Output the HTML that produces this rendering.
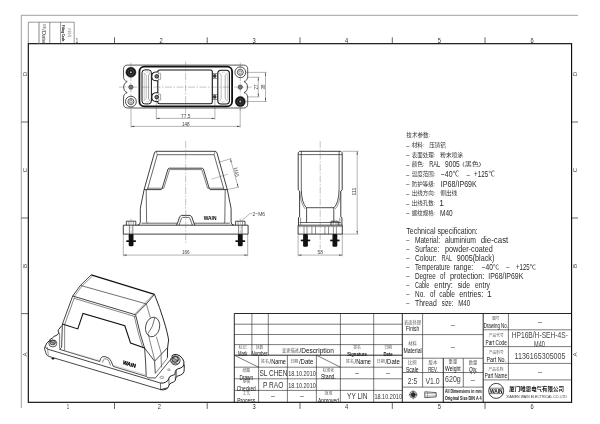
<!DOCTYPE html>
<html><head><meta charset="utf-8"><title>HP16B/H-SEH-4S-M40</title>
<style>
html,body{margin:0;padding:0;background:#fff;}
body{width:600px;height:424px;overflow:hidden;}
svg{display:block;font-family:'Liberation Sans','Noto Sans CJK SC',sans-serif;will-change:transform;}
</style></head><body>
<svg width="600" height="424" viewBox="0 0 600 424">
<defs><clipPath id="cb"><rect x="0" y="0" width="600" height="402.6"/></clipPath></defs>
<rect x="0" y="0" width="600" height="424" fill="#fff"/>
<line x1="21.3" y1="15.3" x2="578" y2="15.3" stroke="#777" stroke-width="0.7" />
<line x1="21.3" y1="15.3" x2="21.3" y2="408" stroke="#777" stroke-width="0.7" />
<rect x="28.3" y="43.7" width="543.3000000000001" height="358.6" fill="none" stroke="#000" stroke-width="1.1"/>
<line x1="114.5" y1="37.3" x2="114.5" y2="43.7" stroke="#333" stroke-width="0.75" />
<line x1="114.5" y1="402.3" x2="114.5" y2="408.9" stroke="#333" stroke-width="0.75" />
<line x1="207.2" y1="37.3" x2="207.2" y2="43.7" stroke="#333" stroke-width="0.75" />
<line x1="207.2" y1="402.3" x2="207.2" y2="408.9" stroke="#333" stroke-width="0.75" />
<line x1="300" y1="37.3" x2="300" y2="43.7" stroke="#333" stroke-width="0.75" />
<line x1="300" y1="402.3" x2="300" y2="408.9" stroke="#333" stroke-width="0.75" />
<line x1="392.3" y1="37.3" x2="392.3" y2="43.7" stroke="#333" stroke-width="0.75" />
<line x1="392.3" y1="402.3" x2="392.3" y2="408.9" stroke="#333" stroke-width="0.75" />
<line x1="485" y1="37.3" x2="485" y2="43.7" stroke="#333" stroke-width="0.75" />
<line x1="485" y1="402.3" x2="485" y2="408.9" stroke="#333" stroke-width="0.75" />
<text x="161.2" y="42.8" font-size="7.3" text-anchor="middle" fill="#333" textLength="3.2" lengthAdjust="spacingAndGlyphs" >2</text>
<text x="159.4" y="408.9" font-size="7.3" text-anchor="middle" fill="#333" textLength="3.2" lengthAdjust="spacingAndGlyphs" >2</text>
<text x="254" y="42.8" font-size="7.3" text-anchor="middle" fill="#333" textLength="3.2" lengthAdjust="spacingAndGlyphs" >3</text>
<text x="254" y="408.9" font-size="7.3" text-anchor="middle" fill="#333" textLength="3.2" lengthAdjust="spacingAndGlyphs" >3</text>
<text x="346.5" y="42.8" font-size="7.3" text-anchor="middle" fill="#333" textLength="3.2" lengthAdjust="spacingAndGlyphs" >4</text>
<text x="346.5" y="408.9" font-size="7.3" text-anchor="middle" fill="#333" textLength="3.2" lengthAdjust="spacingAndGlyphs" >4</text>
<text x="439.3" y="42.8" font-size="7.3" text-anchor="middle" fill="#333" textLength="3.2" lengthAdjust="spacingAndGlyphs" >5</text>
<text x="439.3" y="408.9" font-size="7.3" text-anchor="middle" fill="#333" textLength="3.2" lengthAdjust="spacingAndGlyphs" >5</text>
<text x="532" y="42.8" font-size="7.3" text-anchor="middle" fill="#333" textLength="3.2" lengthAdjust="spacingAndGlyphs" >6</text>
<text x="532" y="408.9" font-size="7.3" text-anchor="middle" fill="#333" textLength="3.2" lengthAdjust="spacingAndGlyphs" >6</text>
<text x="77" y="42.8" font-size="7.3" text-anchor="middle" fill="#333" textLength="2.4" lengthAdjust="spacingAndGlyphs" >1</text>
<text x="68" y="408.9" font-size="7.3" text-anchor="middle" fill="#333" textLength="2.4" lengthAdjust="spacingAndGlyphs" >1</text>
<line x1="21.3" y1="122" x2="28.3" y2="122" stroke="#333" stroke-width="0.75" />
<line x1="571.6" y1="122" x2="578" y2="122" stroke="#333" stroke-width="0.75" />
<line x1="21.3" y1="218" x2="28.3" y2="218" stroke="#333" stroke-width="0.75" />
<line x1="571.6" y1="218" x2="578" y2="218" stroke="#333" stroke-width="0.75" />
<line x1="21.3" y1="313.6" x2="28.3" y2="313.6" stroke="#333" stroke-width="0.75" />
<text x="27.0" y="74" font-size="6" text-anchor="middle" fill="#444" transform="rotate(-90 27.0 74)" >D</text>
<text x="577.4" y="74" font-size="6" text-anchor="middle" fill="#444" transform="rotate(-90 577.4 74)" >D</text>
<text x="27.0" y="170" font-size="6" text-anchor="middle" fill="#444" transform="rotate(-90 27.0 170)" >C</text>
<text x="577.4" y="170" font-size="6" text-anchor="middle" fill="#444" transform="rotate(-90 577.4 170)" >C</text>
<text x="27.0" y="266" font-size="6" text-anchor="middle" fill="#444" transform="rotate(-90 27.0 266)" >B</text>
<text x="577.4" y="266" font-size="6" text-anchor="middle" fill="#444" transform="rotate(-90 577.4 266)" >B</text>
<text x="27.0" y="354.6" font-size="6" text-anchor="middle" fill="#444" transform="rotate(-90 27.0 354.6)" >A</text>
<text x="577.4" y="354.6" font-size="6" text-anchor="middle" fill="#444" transform="rotate(-90 577.4 354.6)" >A</text>
<line x1="28.3" y1="22.2" x2="74.2" y2="22.2" stroke="#333" stroke-width="0.5" />
<line x1="28.3" y1="22.2" x2="28.3" y2="43.7" stroke="#333" stroke-width="0.5" />
<line x1="49.8" y1="22.2" x2="49.8" y2="43.7" stroke="#333" stroke-width="0.5" />
<line x1="60.6" y1="22.2" x2="60.6" y2="43.7" stroke="#333" stroke-width="0.5" />
<line x1="74.2" y1="22.2" x2="74.2" y2="43.7" stroke="#333" stroke-width="0.5" />
<line x1="39" y1="22.2" x2="39" y2="43.7" stroke="#888" stroke-width="1.0" />
<text x="43.2" y="26.3" font-size="2.9" text-anchor="middle" fill="#777" textLength="5.4" lengthAdjust="spacingAndGlyphs" transform="rotate(90 43.2 26.3)" >日期</text>
<text x="42.3" y="36.2" font-size="5.6" text-anchor="middle" fill="#333" textLength="14" lengthAdjust="spacingAndGlyphs" transform="rotate(90 42.3 36.2)" >/Date</text>
<text x="62.4" y="33.2" font-size="4.3" text-anchor="middle" fill="#111" textLength="16.5" lengthAdjust="spacingAndGlyphs" font-weight="bold" transform="rotate(90 62.4 33.2)" >Filing Code</text>
<text x="68.3" y="32.8" font-size="3.2" text-anchor="middle" fill="#777" textLength="9.5" lengthAdjust="spacingAndGlyphs" transform="rotate(90 68.3 32.8)" >归档号</text>
<line x1="234.3" y1="313.5" x2="571.6" y2="313.5" stroke="#111" stroke-width="0.9" />
<line x1="234.3" y1="313.5" x2="234.3" y2="402.3" stroke="#111" stroke-width="0.9" />
<line x1="234.3" y1="324.2" x2="402.3" y2="324.2" stroke="#222" stroke-width="0.6" />
<line x1="234.3" y1="334.5" x2="402.3" y2="334.5" stroke="#222" stroke-width="0.6" />
<line x1="234.3" y1="344.6" x2="402.3" y2="344.6" stroke="#222" stroke-width="0.6" />
<line x1="234.3" y1="355.2" x2="402.3" y2="355.2" stroke="#111" stroke-width="0.9" />
<line x1="234.3" y1="367.2" x2="402.3" y2="367.2" stroke="#222" stroke-width="0.6" />
<line x1="234.3" y1="378.8" x2="402.3" y2="378.8" stroke="#222" stroke-width="0.6" />
<line x1="234.3" y1="390.4" x2="402.3" y2="390.4" stroke="#222" stroke-width="0.6" />
<line x1="251.9" y1="313.5" x2="251.9" y2="355.2" stroke="#222" stroke-width="0.6" />
<line x1="268.3" y1="313.5" x2="268.3" y2="355.2" stroke="#222" stroke-width="0.6" />
<line x1="258.6" y1="355.2" x2="258.6" y2="402.3" stroke="#222" stroke-width="0.6" />
<line x1="287.4" y1="355.2" x2="287.4" y2="402.3" stroke="#222" stroke-width="0.6" />
<line x1="316.4" y1="355.2" x2="316.4" y2="402.3" stroke="#222" stroke-width="0.6" />
<line x1="340.4" y1="313.5" x2="340.4" y2="402.3" stroke="#222" stroke-width="0.6" />
<line x1="373.7" y1="313.5" x2="373.7" y2="402.3" stroke="#222" stroke-width="0.6" />
<line x1="402.3" y1="313.5" x2="402.3" y2="402.3" stroke="#111" stroke-width="0.9" />
<line x1="234.3" y1="355.2" x2="258.6" y2="367.2" stroke="#222" stroke-width="0.6" />
<line x1="316.4" y1="355.2" x2="340.4" y2="367.2" stroke="#222" stroke-width="0.6" />
<line x1="402.3" y1="334.6" x2="483.2" y2="334.6" stroke="#222" stroke-width="0.6" />
<line x1="402.3" y1="358.2" x2="483.2" y2="358.2" stroke="#222" stroke-width="0.6" />
<line x1="402.3" y1="372.5" x2="483.2" y2="372.5" stroke="#222" stroke-width="0.6" />
<line x1="402.3" y1="387.1" x2="483.2" y2="387.1" stroke="#222" stroke-width="0.6" />
<line x1="422.6" y1="313.5" x2="422.6" y2="387.1" stroke="#222" stroke-width="0.6" />
<line x1="443.3" y1="358.2" x2="443.3" y2="402.3" stroke="#111" stroke-width="0.9" />
<line x1="463.3" y1="358.2" x2="463.3" y2="387.1" stroke="#222" stroke-width="0.6" />
<line x1="483.2" y1="313.5" x2="483.2" y2="402.3" stroke="#111" stroke-width="0.9" />
<line x1="483.2" y1="329.8" x2="571.6" y2="329.8" stroke="#222" stroke-width="0.6" />
<line x1="483.2" y1="346.6" x2="571.6" y2="346.6" stroke="#222" stroke-width="0.6" />
<line x1="483.2" y1="363.4" x2="571.6" y2="363.4" stroke="#222" stroke-width="0.6" />
<line x1="483.2" y1="379.9" x2="571.6" y2="379.9" stroke="#222" stroke-width="0.6" />
<line x1="508.4" y1="313.5" x2="508.4" y2="379.9" stroke="#222" stroke-width="0.6" />
<path d="M127.7 65.1 L243.5 65.1 Q247.7 65.1 247.7 69.3 L247.7 76.2 Q247.7 80.86399999999999 244.0 81.5 A6.1 6.1 0 0 1 244.0 92.7 Q247.7 93.336 247.7 98.0 L247.7 103.8 Q247.7 108.0 243.5 108.0 L127.7 108.0 Q123.5 108.0 123.5 103.8 L123.5 98.0 Q123.5 93.336 127.2 92.7 A6.1 6.1 0 0 1 127.2 81.5 Q123.5 80.86399999999999 123.5 76.2 L123.5 69.3 Q123.5 65.1 127.7 65.1 Z" stroke="#111" stroke-width="0.7" fill="none" />
<rect x="139.4" y="66.7" width="92.69999999999999" height="39.599999999999994" rx="4.8" fill="none" stroke="#111" stroke-width="1.8"/>
<rect x="157.8" y="70.0" width="54.5" height="33.8" rx="1.8" fill="none" stroke="#111" stroke-width="1.1"/>
<rect x="142.0" y="69.9" width="9.400000000000006" height="34.0" rx="2.8" fill="none" stroke="#151515" stroke-width="1.0"/>
<path d="M143.6 72.6 L146.2 75.2 L146.2 98.6 L143.6 101.2" stroke="#666" stroke-width="0.45" fill="none" />
<line x1="144.2" y1="74" x2="144.2" y2="100" stroke="#aaa" stroke-width="0.6" />
<path d="M150.4 72.4 L148.6 75.2 L148.6 98.6 L150.4 101.4" stroke="#444" stroke-width="0.5" fill="none" />
<line x1="145.8" y1="72.0" x2="149.6" y2="72.0" stroke="#888" stroke-width="0.4" />
<line x1="145.8" y1="101.8" x2="149.6" y2="101.8" stroke="#888" stroke-width="0.4" />
<path d="M158.2 72.0 L155.8 72.0 Q151.6 72.4 151.8 76.4 Q151.6 80.4 155.8 80.80000000000001 L158.2 80.80000000000001" stroke="#151515" stroke-width="1.1" fill="#fff" />
<path d="M158.2 73.4 L160.6 73.4 L160.6 79.4 L158.2 79.4" stroke="#444" stroke-width="0.45" fill="none" />
<circle cx="156.7" cy="76.4" r="1.8" fill="#777" stroke="#111" stroke-width="0.8"/>
<path d="M158.2 92.69999999999999 L155.8 92.69999999999999 Q151.6 93.1 151.8 97.1 Q151.6 101.1 155.8 101.5 L158.2 101.5" stroke="#151515" stroke-width="1.1" fill="#fff" />
<path d="M158.2 94.1 L160.6 94.1 L160.6 100.1 L158.2 100.1" stroke="#444" stroke-width="0.45" fill="none" />
<circle cx="156.7" cy="97.1" r="1.8" fill="#777" stroke="#111" stroke-width="0.8"/>
<rect x="217.8" y="70.2" width="11.599999999999994" height="33.8" rx="3.2" fill="none" stroke="#151515" stroke-width="1.1"/>
<path d="M227.8 72.8 L225.2 75.4 L225.2 98.8 L227.8 101.4" stroke="#555" stroke-width="0.5" fill="none" />
<line x1="227.4" y1="74.4" x2="227.4" y2="99.8" stroke="#aaa" stroke-width="0.6" />
<path d="M219.4 72.6 L221.2 75.4 L221.2 98.8 L219.4 101.4" stroke="#666" stroke-width="0.45" fill="none" />
<line x1="221.6" y1="72.2" x2="225.2" y2="72.2" stroke="#888" stroke-width="0.4" />
<line x1="221.6" y1="101.8" x2="225.2" y2="101.8" stroke="#888" stroke-width="0.4" />
<rect x="213.0" y="73.4" width="4.4" height="5.4" fill="none" stroke="#333" stroke-width="0.5"/>
<rect x="213.6" y="74.6" width="2.4" height="2.8" rx="0.8" fill="#444" stroke="#111" stroke-width="0.6"/>
<rect x="213.0" y="94.30000000000001" width="4.4" height="5.4" fill="none" stroke="#333" stroke-width="0.5"/>
<rect x="213.6" y="95.5" width="2.4" height="2.8" rx="0.8" fill="#444" stroke="#111" stroke-width="0.6"/>
<circle cx="130.9" cy="72.3" r="5.0" fill="#151515" stroke="#111" stroke-width="0.5"/>
<circle cx="130.9" cy="72.3" r="3.0" fill="none" stroke="#666" stroke-width="0.6"/>
<circle cx="130.9" cy="72.3" r="1.0" fill="#ccc"/>
<circle cx="130.9" cy="101.6" r="5.4" fill="none" stroke="#111" stroke-width="0.75"/>
<circle cx="130.9" cy="101.6" r="3.0" fill="none" stroke="#111" stroke-width="0.7"/>
<circle cx="130.9" cy="101.6" r="1.5" fill="none" stroke="#333" stroke-width="0.5"/>
<circle cx="130.9" cy="87.1" r="2.1" fill="#888" stroke="#222" stroke-width="0.7"/>
<line x1="130.9" y1="62.5" x2="130.9" y2="110.5" stroke="#555" stroke-width="0.35" stroke-dasharray="7 1.5 1.5 1.5"/>
<circle cx="240.29999999999998" cy="101.6" r="5.0" fill="#151515" stroke="#111" stroke-width="0.5"/>
<circle cx="240.29999999999998" cy="101.6" r="3.0" fill="none" stroke="#666" stroke-width="0.6"/>
<circle cx="240.29999999999998" cy="101.6" r="1.0" fill="#ccc"/>
<circle cx="240.29999999999998" cy="72.3" r="5.4" fill="none" stroke="#111" stroke-width="0.75"/>
<circle cx="240.29999999999998" cy="72.3" r="3.0" fill="none" stroke="#111" stroke-width="0.7"/>
<circle cx="240.29999999999998" cy="72.3" r="1.5" fill="none" stroke="#333" stroke-width="0.5"/>
<circle cx="240.29999999999998" cy="87.1" r="2.1" fill="#888" stroke="#222" stroke-width="0.7"/>
<line x1="240.29999999999998" y1="62.5" x2="240.29999999999998" y2="110.5" stroke="#555" stroke-width="0.35" stroke-dasharray="7 1.5 1.5 1.5"/>
<line x1="119" y1="87.1" x2="252" y2="87.1" stroke="#555" stroke-width="0.35" stroke-dasharray="7 1.5 1.5 1.5"/>
<line x1="185.6" y1="61.5" x2="185.6" y2="113.5" stroke="#555" stroke-width="0.35" stroke-dasharray="7 1.5 1.5 1.5"/>
<line x1="156.3" y1="99" x2="156.3" y2="119.5" stroke="#444" stroke-width="0.4" />
<line x1="214.9" y1="99" x2="214.9" y2="119.5" stroke="#444" stroke-width="0.4" />
<line x1="156.3" y1="118.4" x2="214.9" y2="118.4" stroke="#444" stroke-width="0.4" />
<polygon points="214.90,118.40 211.70,118.95 211.70,117.85" fill="#333"/>
<polygon points="156.30,118.40 159.50,117.85 159.50,118.95" fill="#333"/>
<text x="185.8" y="117.9" font-size="5.4" text-anchor="middle" fill="#444" textLength="9.4" lengthAdjust="spacingAndGlyphs" >77.5</text>
<line x1="131" y1="110.5" x2="131" y2="127.5" stroke="#444" stroke-width="0.4" />
<line x1="240.2" y1="106" x2="240.2" y2="127.5" stroke="#444" stroke-width="0.4" />
<line x1="131" y1="126.4" x2="240.2" y2="126.4" stroke="#444" stroke-width="0.4" />
<polygon points="240.20,126.40 237.00,126.95 237.00,125.85" fill="#333"/>
<polygon points="131.00,126.40 134.20,125.85 134.20,126.95" fill="#333"/>
<text x="185.8" y="125.9" font-size="5.4" text-anchor="middle" fill="#444" textLength="7.8" lengthAdjust="spacingAndGlyphs" >148</text>
<line x1="247.8" y1="77.3" x2="259.4" y2="77.3" stroke="#444" stroke-width="0.4" />
<line x1="247.8" y1="96.9" x2="259.4" y2="96.9" stroke="#444" stroke-width="0.4" />
<line x1="258.3" y1="77.3" x2="258.3" y2="96.9" stroke="#444" stroke-width="0.4" />
<polygon points="258.30,96.90 257.75,93.70 258.85,93.70" fill="#333"/>
<polygon points="258.30,77.30 258.85,80.50 257.75,80.50" fill="#333"/>
<text x="257.7" y="87.1" font-size="5.2" text-anchor="middle" fill="#444" textLength="4.8" lengthAdjust="spacingAndGlyphs" transform="rotate(-90 257.7 87.1)" >27</text>
<line x1="246" y1="72.4" x2="266.6" y2="72.4" stroke="#444" stroke-width="0.4" />
<line x1="246" y1="101.5" x2="266.6" y2="101.5" stroke="#444" stroke-width="0.4" />
<line x1="265.5" y1="72.4" x2="265.5" y2="101.5" stroke="#444" stroke-width="0.4" />
<polygon points="265.50,101.50 264.95,98.30 266.05,98.30" fill="#333"/>
<polygon points="265.50,72.40 266.05,75.60 264.95,75.60" fill="#333"/>
<text x="265.0" y="87.1" font-size="5.2" text-anchor="middle" fill="#444" textLength="4.8" lengthAdjust="spacingAndGlyphs" transform="rotate(-90 265.0 87.1)" >38</text>
<path d="M185.70 151.30 L156.20 151.30 L154.60 152.40 L144.10 189.60 L140.30 208.40 L140.30 222.00 L139.60 224.20 L137.60 225.20" stroke="#111" stroke-width="0.81" fill="none" />
<path d="M185.70 154.70 L157.30 154.70 L147.40 189.60" stroke="#222" stroke-width="0.68" fill="none" />
<path d="M156.20 151.30 L157.30 154.70" stroke="#333" stroke-width="0.54" fill="none" />
<path d="M185.70 168.20 L169.20 168.20 L168.00 169.00 L162.20 188.30 L161.20 189.60 L144.10 189.60" stroke="#111" stroke-width="0.81" fill="none" />
<path d="M185.70 169.60 L169.60 169.60 L163.80 188.20 L147.60 188.20" stroke="#333" stroke-width="0.61" fill="none" />
<path d="M146.20 189.60 L146.60 221.80 L147.40 223.20" stroke="#222" stroke-width="0.68" fill="none" />
<path d="M141.50 223.20 L177.40 223.20" stroke="#222" stroke-width="0.68" fill="none" />
<path d="M176.40 225.20 L177.60 223.00 L179.60 216.80 L181.40 215.40 L185.70 215.40" stroke="#111" stroke-width="0.81" fill="none" />
<path d="M179.00 225.20 L180.00 222.60 L181.40 218.40 L182.60 217.40 L185.70 217.40" stroke="#222" stroke-width="0.68" fill="none" />
<path d="M185.70 225.20 L123.30 225.20 L123.30 234.10 L185.70 234.10" stroke="#111" stroke-width="0.81" fill="none" />
<path d="M126.40 225.20 L126.40 221.20 L135.80 221.20 L135.80 225.20" stroke="#111" stroke-width="0.74" fill="none" />
<line x1="128.9" y1="221.2" x2="128.9" y2="225.2" stroke="#444" stroke-width="0.54" />
<line x1="133.3" y1="221.2" x2="133.3" y2="225.2" stroke="#444" stroke-width="0.54" />
<line x1="129.4" y1="225.2" x2="129.4" y2="234.1" stroke="#333" stroke-width="0.61" />
<line x1="132.79999999999998" y1="225.2" x2="132.79999999999998" y2="234.1" stroke="#333" stroke-width="0.61" />
<rect x="128.7" y="234.1" width="4.8" height="12.2" rx="1.2" fill="#111"/>
<rect x="126.3" y="240.3" width="9.6" height="1.7" fill="#111"/>
<line x1="131.1" y1="218.5" x2="131.1" y2="236" stroke="#555" stroke-width="0.35" stroke-dasharray="7 1.5 1.5 1.5"/>
<path d="M185.70 151.30 L215.20 151.30 L216.80 152.40 L227.30 189.60 L231.10 208.40 L231.10 222.00 L231.80 224.20 L233.80 225.20" stroke="#111" stroke-width="0.81" fill="none" />
<path d="M185.70 154.70 L214.10 154.70 L224.00 189.60" stroke="#222" stroke-width="0.68" fill="none" />
<path d="M215.20 151.30 L214.10 154.70" stroke="#333" stroke-width="0.54" fill="none" />
<path d="M185.70 168.20 L202.20 168.20 L203.40 169.00 L209.20 188.30 L210.20 189.60 L227.30 189.60" stroke="#111" stroke-width="0.81" fill="none" />
<path d="M185.70 169.60 L201.80 169.60 L207.60 188.20 L223.80 188.20" stroke="#333" stroke-width="0.61" fill="none" />
<path d="M225.20 189.60 L224.80 221.80 L224.00 223.20" stroke="#222" stroke-width="0.68" fill="none" />
<path d="M229.90 223.20 L194.00 223.20" stroke="#222" stroke-width="0.68" fill="none" />
<path d="M195.00 225.20 L193.80 223.00 L191.80 216.80 L190.00 215.40 L185.70 215.40" stroke="#111" stroke-width="0.81" fill="none" />
<path d="M192.40 225.20 L191.40 222.60 L190.00 218.40 L188.80 217.40 L185.70 217.40" stroke="#222" stroke-width="0.68" fill="none" />
<path d="M185.70 225.20 L248.10 225.20 L248.10 234.10 L185.70 234.10" stroke="#111" stroke-width="0.81" fill="none" />
<path d="M245.00 225.20 L245.00 221.20 L235.60 221.20 L235.60 225.20" stroke="#111" stroke-width="0.74" fill="none" />
<line x1="242.49999999999997" y1="221.2" x2="242.49999999999997" y2="225.2" stroke="#444" stroke-width="0.54" />
<line x1="238.09999999999997" y1="221.2" x2="238.09999999999997" y2="225.2" stroke="#444" stroke-width="0.54" />
<line x1="238.6" y1="225.2" x2="238.6" y2="234.1" stroke="#333" stroke-width="0.61" />
<line x1="241.99999999999997" y1="225.2" x2="241.99999999999997" y2="234.1" stroke="#333" stroke-width="0.61" />
<rect x="237.89999999999998" y="234.1" width="4.8" height="12.2" rx="1.2" fill="#111"/>
<rect x="235.49999999999997" y="240.3" width="9.6" height="1.7" fill="#111"/>
<line x1="240.29999999999998" y1="218.5" x2="240.29999999999998" y2="236" stroke="#555" stroke-width="0.35" stroke-dasharray="7 1.5 1.5 1.5"/>
<line x1="185.7" y1="141" x2="185.7" y2="243" stroke="#555" stroke-width="0.35" stroke-dasharray="7 1.5 1.5 1.5"/>
<text x="210.1" y="219.6" font-size="4.9" text-anchor="middle" fill="#000" textLength="12.8" lengthAdjust="spacingAndGlyphs" font-weight="bold" >WAIN</text>
<path d="M241.40 220.80 L250.00 213.60 L252.20 213.60" stroke="#444" stroke-width="0.4" fill="none" />
<text x="252.5" y="215.6" font-size="6.2" text-anchor="start" fill="#444" textLength="12.6" lengthAdjust="spacingAndGlyphs" >2−M6</text>
<line x1="123.3" y1="234.1" x2="123.3" y2="256.3" stroke="#444" stroke-width="0.4" />
<line x1="247.7" y1="234.1" x2="247.7" y2="256.3" stroke="#444" stroke-width="0.4" />
<line x1="123.3" y1="255.1" x2="247.7" y2="255.1" stroke="#444" stroke-width="0.4" />
<polygon points="247.70,255.10 244.50,255.65 244.50,254.55" fill="#333"/>
<polygon points="123.30,255.10 126.50,254.55 126.50,255.65" fill="#333"/>
<text x="185.8" y="254.4" font-size="5.6" text-anchor="middle" fill="#444" textLength="7.8" lengthAdjust="spacingAndGlyphs" >166</text>
<line x1="218.6" y1="162.3" x2="231.6" y2="158.5" stroke="#444" stroke-width="0.4" />
<line x1="226.8" y1="189.7" x2="239.0" y2="187.0" stroke="#444" stroke-width="0.4" />
<line x1="230.4" y1="158.9" x2="238.2" y2="187.2" stroke="#444" stroke-width="0.4" />
<polygon points="238.20,187.20 236.82,184.26 237.88,183.97" fill="#333"/>
<polygon points="230.40,158.90 231.78,161.84 230.72,162.13" fill="#333"/>
<text x="234.6" y="172.6" font-size="5.6" text-anchor="middle" fill="#444" textLength="8.8" lengthAdjust="spacingAndGlyphs" transform="rotate(74.4 234.6 172.6)" >M40</text>
<line x1="211.2" y1="179.2" x2="228" y2="174.2" stroke="#555" stroke-width="0.35" />
<path d="M320.20 151.30 L299.60 151.30 L298.20 152.80 L298.20 189.80 L299.60 191.20 L299.60 216.80 L298.50 217.60 L298.50 225.20" stroke="#111" stroke-width="0.81" fill="none" />
<path d="M320.20 154.60 L298.40 154.60" stroke="#222" stroke-width="0.68" fill="none" />
<path d="M301.30 151.30 L301.30 189.50" stroke="#222" stroke-width="0.68" fill="none" />
<path d="M301.3 189.5 Q301.6 203 306.4 207.7 L320.2 207.7" stroke="#111" stroke-width="0.74" fill="none" />
<path d="M299.8 191.4 Q300.6 204 305.2 209" stroke="#444" stroke-width="0.54" fill="none" />
<path d="M306.60 207.70 L306.60 222.50" stroke="#111" stroke-width="0.74" fill="none" />
<path d="M320.20 222.50 L299.60 222.50" stroke="#222" stroke-width="0.68" fill="none" />
<path d="M300.60 217.60 L300.60 225.20" stroke="#444" stroke-width="0.54" fill="none" />
<path d="M320.20 225.20 L298.10 225.20 L298.10 234.10 L320.20 234.10" stroke="#111" stroke-width="0.81" fill="none" />
<path d="M320.20 226.60 L298.10 226.60" stroke="#444" stroke-width="0.54" fill="none" />
<line x1="304.0" y1="226.6" x2="304.0" y2="234.1" stroke="#333" stroke-width="0.54" />
<line x1="307.0" y1="226.6" x2="307.0" y2="234.1" stroke="#333" stroke-width="0.54" />
<line x1="311.9" y1="226.6" x2="311.9" y2="234.1" stroke="#333" stroke-width="0.54" />
<line x1="315.5" y1="226.6" x2="315.5" y2="234.1" stroke="#333" stroke-width="0.54" />
<rect x="303.1" y="234.1" width="4.8" height="12.6" rx="1.2" fill="#111"/>
<rect x="300.8" y="239.6" width="9.4" height="1.7" fill="#111"/>
<path d="M320.20 151.30 L340.80 151.30 L342.20 152.80 L342.20 189.80 L340.80 191.20 L340.80 216.80 L341.90 217.60 L341.90 225.20" stroke="#111" stroke-width="0.81" fill="none" />
<path d="M320.20 154.60 L342.00 154.60" stroke="#222" stroke-width="0.68" fill="none" />
<path d="M339.10 151.30 L339.10 189.50" stroke="#222" stroke-width="0.68" fill="none" />
<path d="M339.09999999999997 189.5 Q338.79999999999995 203 334.0 207.7 L320.2 207.7" stroke="#111" stroke-width="0.74" fill="none" />
<path d="M340.59999999999997 191.4 Q339.79999999999995 204 335.2 209" stroke="#444" stroke-width="0.54" fill="none" />
<path d="M333.80 207.70 L333.80 222.50" stroke="#111" stroke-width="0.74" fill="none" />
<path d="M320.20 222.50 L340.80 222.50" stroke="#222" stroke-width="0.68" fill="none" />
<path d="M339.80 217.60 L339.80 225.20" stroke="#444" stroke-width="0.54" fill="none" />
<path d="M320.20 225.20 L342.30 225.20 L342.30 234.10 L320.20 234.10" stroke="#111" stroke-width="0.81" fill="none" />
<path d="M320.20 226.60 L342.30 226.60" stroke="#444" stroke-width="0.54" fill="none" />
<line x1="336.4" y1="226.6" x2="336.4" y2="234.1" stroke="#333" stroke-width="0.54" />
<line x1="333.4" y1="226.6" x2="333.4" y2="234.1" stroke="#333" stroke-width="0.54" />
<line x1="328.5" y1="226.6" x2="328.5" y2="234.1" stroke="#333" stroke-width="0.54" />
<line x1="324.9" y1="226.6" x2="324.9" y2="234.1" stroke="#333" stroke-width="0.54" />
<rect x="332.5" y="234.1" width="4.8" height="12.6" rx="1.2" fill="#111"/>
<rect x="330.2" y="239.6" width="9.4" height="1.7" fill="#111"/>
<path d="M331.00 225.20 L331.00 221.20 L338.20 221.20 L338.20 225.20" stroke="#111" stroke-width="0.74" fill="none" />
<line x1="333.2" y1="221.2" x2="333.2" y2="225.2" stroke="#444" stroke-width="0.54" />
<line x1="336" y1="221.2" x2="336" y2="225.2" stroke="#444" stroke-width="0.54" />
<line x1="320.2" y1="141" x2="320.2" y2="249" stroke="#555" stroke-width="0.35" stroke-dasharray="7 1.5 1.5 1.5"/>
<line x1="342.3" y1="151.3" x2="358.4" y2="151.3" stroke="#444" stroke-width="0.4" />
<line x1="342.3" y1="234.1" x2="358.4" y2="234.1" stroke="#444" stroke-width="0.4" />
<line x1="357.2" y1="151.3" x2="357.2" y2="234.1" stroke="#444" stroke-width="0.4" />
<polygon points="357.20,234.10 356.65,230.90 357.75,230.90" fill="#333"/>
<polygon points="357.20,151.30 357.75,154.50 356.65,154.50" fill="#333"/>
<text x="356.5" y="191.6" font-size="5.6" text-anchor="middle" fill="#444" textLength="8" lengthAdjust="spacingAndGlyphs" transform="rotate(-90 356.5 191.6)" >111</text>
<line x1="298.1" y1="234.1" x2="298.1" y2="256.3" stroke="#444" stroke-width="0.4" />
<line x1="342.3" y1="234.1" x2="342.3" y2="256.3" stroke="#444" stroke-width="0.4" />
<line x1="298.1" y1="255.1" x2="342.3" y2="255.1" stroke="#444" stroke-width="0.4" />
<polygon points="342.30,255.10 339.10,255.65 339.10,254.55" fill="#333"/>
<polygon points="298.10,255.10 301.30,254.55 301.30,255.65" fill="#333"/>
<text x="320.2" y="254.4" font-size="5.6" text-anchor="middle" fill="#444" textLength="5.4" lengthAdjust="spacingAndGlyphs" >58</text>
<path d="M91.20 274.90 L154.50 294.40" stroke="#111" stroke-width="1.17" fill="none" />
<path d="M91.20 274.90 L80.40 285.40 L72.70 296.00" stroke="#111" stroke-width="0.78" fill="none" />
<path d="M92.30 276.20 L81.80 286.20 L74.20 296.60" stroke="#333" stroke-width="0.52" fill="none" />
<path d="M80.40 285.40 L146.30 303.90" stroke="#222" stroke-width="0.65" fill="none" />
<path d="M72.70 296.00 L135.60 314.80" stroke="#111" stroke-width="0.78" fill="none" />
<path d="M74.00 298.30 L135.90 316.80" stroke="#333" stroke-width="0.59" fill="none" />
<path d="M154.50 294.40 L146.30 303.90 L135.60 314.80" stroke="#111" stroke-width="0.78" fill="none" />
<path d="M153.00 294.60 L145.00 303.60 L134.40 314.40" stroke="#444" stroke-width="0.52" fill="none" />
<path d="M72.70 296.00 L62.40 324.00" stroke="#111" stroke-width="0.78" fill="none" />
<path d="M74.40 297.60 L64.60 324.60" stroke="#333" stroke-width="0.59" fill="none" />
<path d="M62.40 324.00 L77.80 328.90 L83.00 313.40 L124.80 325.80 L130.60 343.10 L144.60 348.10" stroke="#111" stroke-width="1.1" fill="none" />
<path d="M62.40 324.00 L61.60 347.40 L59.60 349.40" stroke="#111" stroke-width="0.78" fill="none" />
<path d="M64.70 324.80 L64.60 350.40" stroke="#333" stroke-width="0.59" fill="none" />
<path d="M135.60 314.80 L140.60 335.00 L144.60 348.10 L145.60 362.00 L146.20 375.80" stroke="#111" stroke-width="0.78" fill="none" />
<path d="M134.20 316.20 L139.00 335.60 L143.00 348.00" stroke="#333" stroke-width="0.59" fill="none" />
<path d="M154.5 294.4 Q160 308 163.6 320 Q167.6 333 168.6 340 L167.6 347.8 L167.4 357.8" stroke="#111" stroke-width="0.91" fill="none" />
<path d="M146.30 303.90 L150.40 317.80" stroke="#333" stroke-width="0.59" fill="none" />
<ellipse cx="152.6" cy="327.0" rx="7.0" ry="9.9" transform="rotate(12 152.6 327.0)" fill="none" stroke="#111" stroke-width="0.7"/>
<path d="M154.8 317.6 Q153.4 327 148.0 333.4" stroke="#222" stroke-width="0.65" fill="none" />
<path d="M148.20 333.80 L151.60 348.00 L154.80 360.40" stroke="#333" stroke-width="0.59" fill="none" />
<path d="M156.40 336.80 L161.60 354.60" stroke="#333" stroke-width="0.59" fill="none" />
<path d="M144.60 348.10 L154.60 361.20 L167.50 347.70" stroke="#111" stroke-width="0.78" fill="none" />
<path d="M154.60 361.20 L155.30 373.40" stroke="#111" stroke-width="0.72" fill="none" />
<path d="M161.00 355.20 L161.50 367.40" stroke="#333" stroke-width="0.59" fill="none" />
<path d="M146.20 376.20 L148.00 377.80 L155.40 378.00 L170.20 360.00" stroke="#111" stroke-width="0.72" fill="none" />
<path d="M155.30 373.40 L167.40 358.20" stroke="#333" stroke-width="0.59" fill="none" />
<path d="M59.60 349.40 L99.40 361.40" stroke="#111" stroke-width="0.72" fill="none" />
<path d="M64.60 350.60 L99.80 360.60" stroke="#999" stroke-width="0.4" fill="none" />
<path d="M113.20 366.40 L146.20 376.40" stroke="#111" stroke-width="0.72" fill="none" />
<path d="M113.00 365.00 L146.00 375.00" stroke="#999" stroke-width="0.4" fill="none" />
<path d="M99.6 361.8 L100.6 358.6 Q101.8 356.0 105.2 356.6 Q110.2 357.8 111.2 361.4 L113.2 366.4" stroke="#111" stroke-width="0.78" fill="none" />
<path d="M102.6 362.6 L103.2 360 Q104.2 358.4 106.2 358.9 Q108.8 359.8 109.4 362 L110.4 365.4" stroke="#333" stroke-width="0.59" fill="none" />
<path d="M45.4 346.6 Q45.8 348.4 47.2 349.0 L160.4 383.0" stroke="#111" stroke-width="0.78" fill="none" />
<path d="M48.8 356.4 L160.6 389.6 L167.6 387.8" stroke="#111" stroke-width="0.78" fill="none" />
<path d="M45.4 346.2 Q44.2 347 44.6 349 L46.2 353.8 Q47 355.8 48.8 356.4" stroke="#111" stroke-width="0.78" fill="none" />
<line x1="160.4" y1="383.0" x2="160.6" y2="389.6" stroke="#222" stroke-width="0.65" />
<line x1="47.4" y1="347.0" x2="48.4" y2="355.6" stroke="#444" stroke-width="0.52" />
<path d="M45.4 346.4 Q46 343 49.4 340.6 Q50.2 338.6 52.4 338 Q54 336 56 335.6 Q58.4 334.4 58.8 332.8 Q57.4 330.6 58.6 329.6 L61.8 325.6" stroke="#111" stroke-width="0.9" fill="none" />
<path d="M58.8 332.8 Q59.8 333.4 59.7 335 L59.6 348.6" stroke="#222" stroke-width="0.6" fill="none" />
<ellipse cx="52.8" cy="343.4" rx="4.0" ry="3.5" fill="#fff" stroke="#111" stroke-width="0.7"/>
<ellipse cx="52.7" cy="342.6" rx="2.7" ry="2.3" fill="#aaa" stroke="#111" stroke-width="0.7"/>
<line x1="50.6" y1="341.4" x2="54.8" y2="343.6" stroke="#111" stroke-width="0.59" />
<ellipse cx="53" cy="358.6" rx="1.6" ry="0.9" fill="#111"/>
<path d="M160.4 383.0 Q163.6 383.4 165.6 382.2 Q168.6 380.8 168.8 378.4 Q169.2 376.4 171.4 375.8 Q173.8 375.2 175.2 373.6 Q174.8 371.2 176.4 369.6 Q178 368.6 180.2 368.2 Q182.8 367.4 183.8 365 Q184.6 361.6 182.6 358.8 Q180.6 355.4 176.6 354.4 Q173.4 354 171.4 356.2" stroke="#111" stroke-width="0.98" fill="none" />
<path d="M160.4 389.6 Q163.8 390.4 166 389.2 Q168.8 387.8 169 385.4 M175.4 380.4 Q175.2 378.6 176.6 376.6 M184 371.6 Q184.4 369 184.2 364.6 M169 385.4 Q169.6 383.4 171.6 382.8 Q174 382.2 175.4 380.4 M176.6 376.6 Q178.2 375.6 180.4 375.2 Q183 374.4 184 371.6" stroke="#111" stroke-width="0.91" fill="none" />
<line x1="168.9" y1="378.4" x2="169.0" y2="385.4" stroke="#222" stroke-width="0.65" />
<line x1="175.3" y1="373.6" x2="175.4" y2="380.4" stroke="#222" stroke-width="0.65" />
<line x1="176.4" y1="369.6" x2="176.6" y2="376.6" stroke="#333" stroke-width="0.59" />
<path d="M170.20 360.00 L172.00 357.40" stroke="#222" stroke-width="0.65" fill="none" />
<ellipse cx="175.4" cy="360.4" rx="4.7" ry="4.5" fill="#fff" stroke="#111" stroke-width="0.8"/>
<ellipse cx="175.2" cy="359.4" rx="3.3" ry="3.0" fill="#999" stroke="#111" stroke-width="0.8"/>
<ellipse cx="175.6" cy="358.8" rx="1.5" ry="1.2" fill="#ddd"/>
<line x1="172.6" y1="357.6" x2="178.2" y2="361.0" stroke="#111" stroke-width="0.65" />
<path d="M171.0 361.6 Q174.8 365.4 179.8 362.6" stroke="#222" stroke-width="0.65" fill="none" />
<ellipse cx="161.8" cy="377.4" rx="1.9" ry="1.2" fill="#eee" stroke="#333" stroke-width="0.4"/>
<ellipse cx="168.9" cy="369.7" rx="1.4" ry="0.9" fill="#eee" stroke="#333" stroke-width="0.4"/>
<text x="122.4" y="364.0" font-size="5.4" font-weight="bold" fill="#000" stroke="#000" stroke-width="0.25" textLength="13.4" lengthAdjust="spacingAndGlyphs" transform="rotate(17 122.4 364.0)">WAIN</text>
<text x="242.7" y="348.88" font-size="4.0" text-anchor="middle" fill="#5a5a5a" textLength="7.7" lengthAdjust="spacingAndGlyphs" >标记</text>
<text x="242.7" y="356.0" font-size="6.5" text-anchor="middle" fill="#111" textLength="9.4" lengthAdjust="spacingAndGlyphs" >Mark</text>
<text x="259.6" y="348.88" font-size="4.0" text-anchor="middle" fill="#5a5a5a" textLength="7.7" lengthAdjust="spacingAndGlyphs" >处数</text>
<text x="259.6" y="356.0" font-size="6.5" text-anchor="middle" fill="#111" textLength="16" lengthAdjust="spacingAndGlyphs" >Number</text>
<text x="282" y="352.09999999999997" font-size="4.2" text-anchor="start" fill="#5a5a5a" textLength="16.8" lengthAdjust="spacingAndGlyphs" >变更描述</text>
<text x="299.40000000000003" y="353.2" font-size="7" text-anchor="start" fill="#111" textLength="34.5" lengthAdjust="spacingAndGlyphs" >/Description</text>
<text x="357" y="348.88" font-size="4.0" text-anchor="middle" fill="#5a5a5a" textLength="7.7" lengthAdjust="spacingAndGlyphs" >签名</text>
<text x="357" y="355.6" font-size="5.6" text-anchor="middle" fill="#111" textLength="19.5" lengthAdjust="spacingAndGlyphs" font-weight="bold" >Signature</text>
<text x="388" y="348.88" font-size="4.0" text-anchor="middle" fill="#5a5a5a" textLength="7.7" lengthAdjust="spacingAndGlyphs" >日期</text>
<text x="388" y="355.6" font-size="5.6" text-anchor="middle" fill="#111" textLength="9" lengthAdjust="spacingAndGlyphs" font-weight="bold" >Date</text>
<text x="261" y="362.5" font-size="4" text-anchor="start" fill="#5a5a5a" textLength="8" lengthAdjust="spacingAndGlyphs" >姓名</text>
<text x="269.6" y="363.6" font-size="7" text-anchor="start" fill="#111" textLength="16.3" lengthAdjust="spacingAndGlyphs" >/Name</text>
<text x="290.3" y="362.5" font-size="4" text-anchor="start" fill="#5a5a5a" textLength="8" lengthAdjust="spacingAndGlyphs" >日期</text>
<text x="298.90000000000003" y="363.6" font-size="7" text-anchor="start" fill="#111" textLength="14.5" lengthAdjust="spacingAndGlyphs" >/Date</text>
<text x="346" y="362.5" font-size="4" text-anchor="start" fill="#5a5a5a" textLength="8" lengthAdjust="spacingAndGlyphs" >姓名</text>
<text x="354.6" y="363.6" font-size="7" text-anchor="start" fill="#111" textLength="16.3" lengthAdjust="spacingAndGlyphs" >/Name</text>
<text x="376.8" y="362.5" font-size="4" text-anchor="start" fill="#5a5a5a" textLength="8" lengthAdjust="spacingAndGlyphs" >日期</text>
<text x="385.40000000000003" y="363.6" font-size="7" text-anchor="start" fill="#111" textLength="14.5" lengthAdjust="spacingAndGlyphs" >/Date</text>
<text x="246.3" y="371.88" font-size="4.0" text-anchor="middle" fill="#5a5a5a" textLength="7.7" lengthAdjust="spacingAndGlyphs" >绘图</text>
<text x="246.3" y="379.8" font-size="6.5" text-anchor="middle" fill="#111" textLength="13.5" lengthAdjust="spacingAndGlyphs" >Drawn</text>
<text x="273.4" y="375.9" font-size="8.4" text-anchor="middle" fill="#333" textLength="28" lengthAdjust="spacingAndGlyphs" >SL CHEN</text>
<text x="302" y="375.9" font-size="7.4" text-anchor="middle" fill="#333" textLength="27.5" lengthAdjust="spacingAndGlyphs" >18.10.2010</text>
<text x="328.4" y="371.88" font-size="4.0" text-anchor="middle" fill="#5a5a5a" textLength="11.5" lengthAdjust="spacingAndGlyphs" >标准化</text>
<text x="328.4" y="379.4" font-size="6.5" text-anchor="middle" fill="#111" textLength="15" lengthAdjust="spacingAndGlyphs" >Stand.</text>
<text x="357" y="374.5" font-size="7" text-anchor="middle" fill="#333" >–</text>
<text x="388" y="374.5" font-size="7" text-anchor="middle" fill="#333" >–</text>
<text x="246.3" y="383.48" font-size="4.0" text-anchor="middle" fill="#5a5a5a" textLength="7.7" lengthAdjust="spacingAndGlyphs" >审核</text>
<text x="246.3" y="391.4" font-size="6.5" text-anchor="middle" fill="#111" textLength="19" lengthAdjust="spacingAndGlyphs" >Checked</text>
<text x="273.2" y="387.6" font-size="8.4" text-anchor="middle" fill="#333" textLength="20.5" lengthAdjust="spacingAndGlyphs" >P RAO</text>
<text x="302" y="387.6" font-size="7.4" text-anchor="middle" fill="#333" textLength="27.5" lengthAdjust="spacingAndGlyphs" >18.10.2010</text>
<text x="246.3" y="395.08" font-size="4.0" text-anchor="middle" fill="#5a5a5a" textLength="7.7" lengthAdjust="spacingAndGlyphs" >工艺</text>
<text x="246.3" y="403.0" font-size="6.5" text-anchor="middle" fill="#111" textLength="18" lengthAdjust="spacingAndGlyphs" clip-path="url(#cb)">Process</text>
<text x="273" y="397.5" font-size="7" text-anchor="middle" fill="#333" >–</text>
<text x="302" y="397.5" font-size="7" text-anchor="middle" fill="#333" >–</text>
<text x="328.4" y="395.08" font-size="4.0" text-anchor="middle" fill="#5a5a5a" textLength="7.7" lengthAdjust="spacingAndGlyphs" >批准</text>
<text x="328.4" y="402.8" font-size="6.5" text-anchor="middle" fill="#111" textLength="21" lengthAdjust="spacingAndGlyphs" clip-path="url(#cb)">Approved</text>
<text x="357.3" y="399.3" font-size="8.4" text-anchor="middle" fill="#333" textLength="20.5" lengthAdjust="spacingAndGlyphs" >YY LIN</text>
<text x="388.2" y="399.3" font-size="7.4" text-anchor="middle" fill="#333" textLength="27.5" lengthAdjust="spacingAndGlyphs" >18.10.2010</text>
<text x="412.6" y="323.7" font-size="4.6" text-anchor="middle" fill="#5a5a5a" textLength="17.1" lengthAdjust="spacingAndGlyphs" >表面处理</text>
<text x="412.6" y="330.9" font-size="6.5" text-anchor="middle" fill="#111" textLength="13" lengthAdjust="spacingAndGlyphs" >Finish</text>
<text x="412.6" y="345.2" font-size="4.6" text-anchor="middle" fill="#5a5a5a" textLength="8.6" lengthAdjust="spacingAndGlyphs" >材料</text>
<text x="412.6" y="353.0" font-size="6.5" text-anchor="middle" fill="#111" textLength="18.3" lengthAdjust="spacingAndGlyphs" >Material</text>
<text x="452.8" y="326.6" font-size="7.5" text-anchor="middle" fill="#333" >–</text>
<text x="452.8" y="349.2" font-size="7.5" text-anchor="middle" fill="#333" >–</text>
<text x="412.3" y="363.7" font-size="4.6" text-anchor="middle" fill="#5a5a5a" textLength="8.6" lengthAdjust="spacingAndGlyphs" >比例</text>
<text x="412.3" y="371.6" font-size="6.5" text-anchor="middle" fill="#111" textLength="12.7" lengthAdjust="spacingAndGlyphs" >Scale</text>
<text x="432.9" y="363.7" font-size="4.6" text-anchor="middle" fill="#5a5a5a" textLength="8.6" lengthAdjust="spacingAndGlyphs" >版本</text>
<text x="432.9" y="371.6" font-size="6.5" text-anchor="middle" fill="#111" textLength="9.4" lengthAdjust="spacingAndGlyphs" >REV.</text>
<text x="452.9" y="363.3" font-size="4.6" text-anchor="middle" fill="#5a5a5a" textLength="8.6" lengthAdjust="spacingAndGlyphs" >重量</text>
<text x="452.9" y="371.0" font-size="6.5" text-anchor="middle" fill="#111" textLength="15.7" lengthAdjust="spacingAndGlyphs" >Weight</text>
<text x="473.1" y="363.7" font-size="4.6" text-anchor="middle" fill="#5a5a5a" textLength="8.6" lengthAdjust="spacingAndGlyphs" >数量</text>
<text x="473.1" y="371.6" font-size="6.5" text-anchor="middle" fill="#111" textLength="8.2" lengthAdjust="spacingAndGlyphs" >Qty.</text>
<text x="412.5" y="383.5" font-size="8.3" text-anchor="middle" fill="#444" textLength="9.4" lengthAdjust="spacingAndGlyphs" >2:5</text>
<text x="432.6" y="383.5" font-size="8.3" text-anchor="middle" fill="#444" textLength="14.2" lengthAdjust="spacingAndGlyphs" >V1.0</text>
<text x="452.9" y="382.2" font-size="8.3" text-anchor="middle" fill="#444" textLength="15.7" lengthAdjust="spacingAndGlyphs" >620g</text>
<text x="472.8" y="382.0" font-size="7.5" text-anchor="middle" fill="#333" >–</text>
<text x="463.3" y="393.2" font-size="5.4" text-anchor="middle" fill="#111" textLength="36.7" lengthAdjust="spacingAndGlyphs" font-weight="bold" >All Dimensions in mm</text>
<text x="463.3" y="400.0" font-size="5.4" text-anchor="middle" fill="#111" textLength="36.7" lengthAdjust="spacingAndGlyphs" font-weight="bold" >Original Size DIN A 4</text>
<circle cx="413.2" cy="394.7" r="3.5" fill="none" stroke="#222" stroke-width="0.6"/>
<circle cx="413.2" cy="394.7" r="2.2" fill="#333" stroke="#111" stroke-width="0.5"/>
<line x1="408.8" y1="394.7" x2="417.59999999999997" y2="394.7" stroke="#222" stroke-width="0.5" />
<line x1="413.2" y1="390.09999999999997" x2="413.2" y2="399.3" stroke="#222" stroke-width="0.5" />
<path d="M424.80 391.80 L436.20 392.60 L436.20 396.90 L424.80 397.70 Z" stroke="#222" stroke-width="0.7" fill="none" />
<line x1="424.8" y1="393.4" x2="436.2" y2="393.8" stroke="#444" stroke-width="0.4" />
<line x1="424.8" y1="396.1" x2="436.2" y2="395.7" stroke="#444" stroke-width="0.4" />
<line x1="427.6" y1="392.0" x2="427.6" y2="397.5" stroke="#444" stroke-width="0.4" />
<text x="495.8" y="319.68" font-size="4.0" text-anchor="middle" fill="#5a5a5a" textLength="7.2" lengthAdjust="spacingAndGlyphs" >图号</text>
<text x="495.8" y="327.5" font-size="6.5" text-anchor="middle" fill="#111" textLength="24.2" lengthAdjust="spacingAndGlyphs" >Drawing No.</text>
<text x="540" y="323.9" font-size="7.5" text-anchor="middle" fill="#333" >–</text>
<text x="496.2" y="337.18" font-size="4.0" text-anchor="middle" fill="#5a5a5a" textLength="15" lengthAdjust="spacingAndGlyphs" >产品代号</text>
<text x="496.2" y="344.8" font-size="6.5" text-anchor="middle" fill="#111" textLength="21.4" lengthAdjust="spacingAndGlyphs" >Part Code</text>
<text x="539.8" y="338.2" font-size="8.4" text-anchor="middle" fill="#444" textLength="56.2" lengthAdjust="spacingAndGlyphs" >HP16B/H-SEH-4S-</text>
<text x="539.5" y="347.0" font-size="8.4" text-anchor="middle" fill="#444" textLength="10.8" lengthAdjust="spacingAndGlyphs" >M40</text>
<text x="496.2" y="353.68" font-size="4.0" text-anchor="middle" fill="#5a5a5a" textLength="15" lengthAdjust="spacingAndGlyphs" >产品料号</text>
<text x="496.2" y="361.5" font-size="6.5" text-anchor="middle" fill="#111" textLength="19.6" lengthAdjust="spacingAndGlyphs" >Part No.</text>
<text x="540.0" y="358.8" font-size="9.4" text-anchor="middle" fill="#444" textLength="51" lengthAdjust="spacingAndGlyphs" >1136165305005</text>
<text x="495.9" y="370.88" font-size="4.0" text-anchor="middle" fill="#5a5a5a" textLength="15" lengthAdjust="spacingAndGlyphs" >产品名称</text>
<text x="495.9" y="377.6" font-size="6.5" text-anchor="middle" fill="#111" textLength="22.4" lengthAdjust="spacingAndGlyphs" >Part Name</text>
<text x="540" y="374.0" font-size="7.5" text-anchor="middle" fill="#333" >–</text>
<circle cx="496.2" cy="390.9" r="7.5" fill="none" stroke="#111" stroke-width="0.8"/>
<line x1="489.2" y1="388.2" x2="503.2" y2="388.2" stroke="#111" stroke-width="0.55" />
<line x1="489.2" y1="393.6" x2="503.2" y2="393.6" stroke="#111" stroke-width="0.55" />
<text x="496.2" y="392.9" font-size="5.2" text-anchor="middle" fill="#000" textLength="12.6" lengthAdjust="spacingAndGlyphs" font-weight="bold" >WAIN</text>
<text x="536.6" y="390.6" font-size="5.9" text-anchor="middle" fill="#111" textLength="54.6" lengthAdjust="spacingAndGlyphs" font-weight="bold" >厦门唯恩电气有限公司</text>
<text x="536.5" y="397.7" font-size="4.0" text-anchor="middle" fill="#333" textLength="60.6" lengthAdjust="spacingAndGlyphs" >XIAMEN WAIN ELECTRICAL CO.,LTD</text>
<text x="406.3" y="137.3" font-size="5.6" text-anchor="start" fill="#333" textLength="23.9" lengthAdjust="spacingAndGlyphs" font-family="'Liberation Sans','Noto Sans CJK SC',sans-serif">技术参数:</text>
<text x="406.3" y="147.65" font-size="7" text-anchor="start" fill="#2a2a2a" textLength="3.1" lengthAdjust="spacingAndGlyphs" >–</text>
<text x="406.3" y="157.3" font-size="7" text-anchor="start" fill="#2a2a2a" textLength="3.1" lengthAdjust="spacingAndGlyphs" >–</text>
<text x="406.3" y="166.95" font-size="7" text-anchor="start" fill="#2a2a2a" textLength="3.1" lengthAdjust="spacingAndGlyphs" >–</text>
<text x="406.3" y="176.6" font-size="7" text-anchor="start" fill="#2a2a2a" textLength="3.1" lengthAdjust="spacingAndGlyphs" >–</text>
<text x="406.3" y="186.25" font-size="7" text-anchor="start" fill="#2a2a2a" textLength="3.1" lengthAdjust="spacingAndGlyphs" >–</text>
<text x="406.3" y="195.9" font-size="7" text-anchor="start" fill="#2a2a2a" textLength="3.1" lengthAdjust="spacingAndGlyphs" >–</text>
<text x="406.3" y="205.55" font-size="7" text-anchor="start" fill="#2a2a2a" textLength="3.1" lengthAdjust="spacingAndGlyphs" >–</text>
<text x="406.3" y="215.2" font-size="7" text-anchor="start" fill="#2a2a2a" textLength="3.1" lengthAdjust="spacingAndGlyphs" >–</text>
<text x="411.7" y="146.95000000000002" font-size="5.6" text-anchor="start" fill="#333" textLength="12.9" lengthAdjust="spacingAndGlyphs" font-family="'Liberation Sans','Noto Sans CJK SC',sans-serif">材料:</text>
<text x="429.2" y="146.95000000000002" font-size="5.6" text-anchor="start" fill="#333" textLength="16.6" lengthAdjust="spacingAndGlyphs" font-family="'Liberation Sans','Noto Sans CJK SC',sans-serif">压铸铝</text>
<text x="411.7" y="156.60000000000002" font-size="5.6" text-anchor="start" fill="#333" textLength="23.5" lengthAdjust="spacingAndGlyphs" font-family="'Liberation Sans','Noto Sans CJK SC',sans-serif">表面处理:</text>
<text x="440.3" y="156.60000000000002" font-size="5.6" text-anchor="start" fill="#333" textLength="22.7" lengthAdjust="spacingAndGlyphs" font-family="'Liberation Sans','Noto Sans CJK SC',sans-serif">粉末喷涂</text>
<text x="411.7" y="166.25" font-size="5.6" text-anchor="start" fill="#333" textLength="12.9" lengthAdjust="spacingAndGlyphs" font-family="'Liberation Sans','Noto Sans CJK SC',sans-serif">颜色:</text>
<text x="429.2" y="167.35" font-size="8.4" text-anchor="start" fill="#2a2a2a" textLength="11.0" lengthAdjust="spacingAndGlyphs" >RAL</text>
<text x="445" y="167.35" font-size="8.4" text-anchor="start" fill="#2a2a2a" textLength="14.8" lengthAdjust="spacingAndGlyphs" >9005</text>
<text x="462.3" y="166.25" font-size="5.6" text-anchor="start" fill="#333" textLength="18.7" lengthAdjust="spacingAndGlyphs" font-family="'Liberation Sans','Noto Sans CJK SC',sans-serif">(黑色)</text>
<text x="411.7" y="175.9" font-size="5.6" text-anchor="start" fill="#333" textLength="23.5" lengthAdjust="spacingAndGlyphs" font-family="'Liberation Sans','Noto Sans CJK SC',sans-serif">温度范围:</text>
<text x="440.8" y="177.0" font-size="8.4" text-anchor="start" fill="#2a2a2a" textLength="11.8" lengthAdjust="spacingAndGlyphs" >−40</text>
<text x="452.8" y="175.8" font-size="6.4" text-anchor="start" fill="#2a2a2a" textLength="6.4" lengthAdjust="spacingAndGlyphs" >℃</text>
<text x="466.6" y="176.6" font-size="7" text-anchor="start" fill="#2a2a2a" textLength="3.4" lengthAdjust="spacingAndGlyphs" >–</text>
<text x="474" y="177.0" font-size="8.4" text-anchor="start" fill="#2a2a2a" textLength="14.2" lengthAdjust="spacingAndGlyphs" >+125</text>
<text x="488.4" y="175.8" font-size="6.4" text-anchor="start" fill="#2a2a2a" textLength="6.4" lengthAdjust="spacingAndGlyphs" >℃</text>
<text x="411.7" y="185.55" font-size="5.6" text-anchor="start" fill="#333" textLength="23.5" lengthAdjust="spacingAndGlyphs" font-family="'Liberation Sans','Noto Sans CJK SC',sans-serif">防护等级:</text>
<text x="440.8" y="186.65" font-size="8.4" text-anchor="start" fill="#2a2a2a" textLength="36.0" lengthAdjust="spacingAndGlyphs" >IP68/IP69K</text>
<text x="411.7" y="195.20000000000002" font-size="5.6" text-anchor="start" fill="#333" textLength="23.5" lengthAdjust="spacingAndGlyphs" font-family="'Liberation Sans','Noto Sans CJK SC',sans-serif">出线方向:</text>
<text x="440.3" y="195.20000000000002" font-size="5.6" text-anchor="start" fill="#333" textLength="16.9" lengthAdjust="spacingAndGlyphs" font-family="'Liberation Sans','Noto Sans CJK SC',sans-serif">侧出线</text>
<text x="411.7" y="204.85000000000002" font-size="5.6" text-anchor="start" fill="#333" textLength="23.5" lengthAdjust="spacingAndGlyphs" font-family="'Liberation Sans','Noto Sans CJK SC',sans-serif">出线孔数:</text>
<text x="441.6" y="205.95000000000002" font-size="8.4" text-anchor="middle" fill="#2a2a2a" >1</text>
<text x="411.7" y="214.5" font-size="5.6" text-anchor="start" fill="#333" textLength="23.5" lengthAdjust="spacingAndGlyphs" font-family="'Liberation Sans','Noto Sans CJK SC',sans-serif">螺纹规格:</text>
<text x="440" y="215.6" font-size="8.4" text-anchor="start" fill="#2a2a2a" textLength="12.6" lengthAdjust="spacingAndGlyphs" >M40</text>
<text x="406.3" y="233.9" font-size="8.4" text-anchor="start" fill="#2a2a2a" textLength="71.5" lengthAdjust="spacingAndGlyphs" >Technical specification:</text>
<text x="406.2" y="242.45" font-size="7" text-anchor="start" fill="#2a2a2a" textLength="3.2" lengthAdjust="spacingAndGlyphs" >–</text>
<text x="406.2" y="251.4" font-size="7" text-anchor="start" fill="#2a2a2a" textLength="3.2" lengthAdjust="spacingAndGlyphs" >–</text>
<text x="406.2" y="260.3500000000001" font-size="7" text-anchor="start" fill="#2a2a2a" textLength="3.2" lengthAdjust="spacingAndGlyphs" >–</text>
<text x="406.2" y="269.30000000000007" font-size="7" text-anchor="start" fill="#2a2a2a" textLength="3.2" lengthAdjust="spacingAndGlyphs" >–</text>
<text x="406.2" y="278.25000000000006" font-size="7" text-anchor="start" fill="#2a2a2a" textLength="3.2" lengthAdjust="spacingAndGlyphs" >–</text>
<text x="406.2" y="287.20000000000005" font-size="7" text-anchor="start" fill="#2a2a2a" textLength="3.2" lengthAdjust="spacingAndGlyphs" >–</text>
<text x="406.2" y="296.15000000000003" font-size="7" text-anchor="start" fill="#2a2a2a" textLength="3.2" lengthAdjust="spacingAndGlyphs" >–</text>
<text x="406.2" y="305.1" font-size="7" text-anchor="start" fill="#2a2a2a" textLength="3.2" lengthAdjust="spacingAndGlyphs" >–</text>
<text x="415" y="242.85" font-size="8.4" text-anchor="start" fill="#2a2a2a" textLength="25" lengthAdjust="spacingAndGlyphs" >Material:</text>
<text x="445" y="242.85" font-size="8.4" text-anchor="start" fill="#2a2a2a" textLength="31" lengthAdjust="spacingAndGlyphs" >aluminium</text>
<text x="480.7" y="242.85" font-size="8.4" text-anchor="start" fill="#2a2a2a" textLength="27.6" lengthAdjust="spacingAndGlyphs" >die-cast</text>
<text x="415" y="251.8" font-size="8.4" text-anchor="start" fill="#2a2a2a" textLength="24.3" lengthAdjust="spacingAndGlyphs" >Surface:</text>
<text x="445" y="251.8" font-size="8.4" text-anchor="start" fill="#2a2a2a" textLength="47.7" lengthAdjust="spacingAndGlyphs" >powder-coated</text>
<text x="415" y="260.75000000000006" font-size="8.4" text-anchor="start" fill="#2a2a2a" textLength="21.7" lengthAdjust="spacingAndGlyphs" >Colour:</text>
<text x="441.7" y="260.75000000000006" font-size="8.4" text-anchor="start" fill="#2a2a2a" textLength="10.1" lengthAdjust="spacingAndGlyphs" >RAL</text>
<text x="456.7" y="260.75000000000006" font-size="8.4" text-anchor="start" fill="#2a2a2a" textLength="37.6" lengthAdjust="spacingAndGlyphs" >9005(black)</text>
<text x="415" y="269.70000000000005" font-size="8.4" text-anchor="start" fill="#2a2a2a" textLength="35" lengthAdjust="spacingAndGlyphs" >Temperature</text>
<text x="453.4" y="269.70000000000005" font-size="8.4" text-anchor="start" fill="#2a2a2a" textLength="19.9" lengthAdjust="spacingAndGlyphs" >range:</text>
<text x="481.7" y="269.70000000000005" font-size="8.4" text-anchor="start" fill="#2a2a2a" textLength="11.3" lengthAdjust="spacingAndGlyphs" >−40</text>
<text x="516" y="269.70000000000005" font-size="8.4" text-anchor="start" fill="#2a2a2a" textLength="13.6" lengthAdjust="spacingAndGlyphs" >+125</text>
<text x="506" y="269.30000000000007" font-size="7" text-anchor="start" fill="#2a2a2a" textLength="3.4" lengthAdjust="spacingAndGlyphs" >–</text>
<text x="493.2" y="268.50000000000006" font-size="6.2" text-anchor="start" fill="#2a2a2a" textLength="5.8" lengthAdjust="spacingAndGlyphs" >℃</text>
<text x="529.8" y="268.50000000000006" font-size="6.2" text-anchor="start" fill="#2a2a2a" textLength="6.2" lengthAdjust="spacingAndGlyphs" >℃</text>
<text x="415" y="278.65000000000003" font-size="8.4" text-anchor="start" fill="#2a2a2a" textLength="20.7" lengthAdjust="spacingAndGlyphs" >Degree</text>
<text x="440" y="278.65000000000003" font-size="8.4" text-anchor="start" fill="#2a2a2a" textLength="5.2" lengthAdjust="spacingAndGlyphs" >of</text>
<text x="450" y="278.65000000000003" font-size="8.4" text-anchor="start" fill="#2a2a2a" textLength="34.3" lengthAdjust="spacingAndGlyphs" >protection:</text>
<text x="488.3" y="278.65000000000003" font-size="8.4" text-anchor="start" fill="#2a2a2a" textLength="35.0" lengthAdjust="spacingAndGlyphs" >IP68/IP69K</text>
<text x="415" y="287.6" font-size="8.4" text-anchor="start" fill="#2a2a2a" textLength="14.3" lengthAdjust="spacingAndGlyphs" >Cable</text>
<text x="434.3" y="287.6" font-size="8.4" text-anchor="start" fill="#2a2a2a" textLength="18.4" lengthAdjust="spacingAndGlyphs" >entry:</text>
<text x="457.7" y="287.6" font-size="8.4" text-anchor="start" fill="#2a2a2a" textLength="12.3" lengthAdjust="spacingAndGlyphs" >side</text>
<text x="475" y="287.6" font-size="8.4" text-anchor="start" fill="#2a2a2a" textLength="15" lengthAdjust="spacingAndGlyphs" >entry</text>
<text x="415" y="296.55" font-size="8.4" text-anchor="start" fill="#2a2a2a" textLength="10" lengthAdjust="spacingAndGlyphs" >No.</text>
<text x="430" y="296.55" font-size="8.4" text-anchor="start" fill="#2a2a2a" textLength="5.2" lengthAdjust="spacingAndGlyphs" >of</text>
<text x="439.3" y="296.55" font-size="8.4" text-anchor="start" fill="#2a2a2a" textLength="15.7" lengthAdjust="spacingAndGlyphs" >cable</text>
<text x="459.3" y="296.55" font-size="8.4" text-anchor="start" fill="#2a2a2a" textLength="24.0" lengthAdjust="spacingAndGlyphs" >entries:</text>
<text x="489.4" y="296.55" font-size="8.4" text-anchor="middle" fill="#2a2a2a" >1</text>
<text x="415" y="305.5" font-size="8.4" text-anchor="start" fill="#2a2a2a" textLength="21.7" lengthAdjust="spacingAndGlyphs" >Thread</text>
<text x="441.7" y="305.5" font-size="8.4" text-anchor="start" fill="#2a2a2a" textLength="11.6" lengthAdjust="spacingAndGlyphs" >size:</text>
<text x="458.3" y="305.5" font-size="8.4" text-anchor="start" fill="#2a2a2a" textLength="11.7" lengthAdjust="spacingAndGlyphs" >M40</text>
</svg>
</body></html>
